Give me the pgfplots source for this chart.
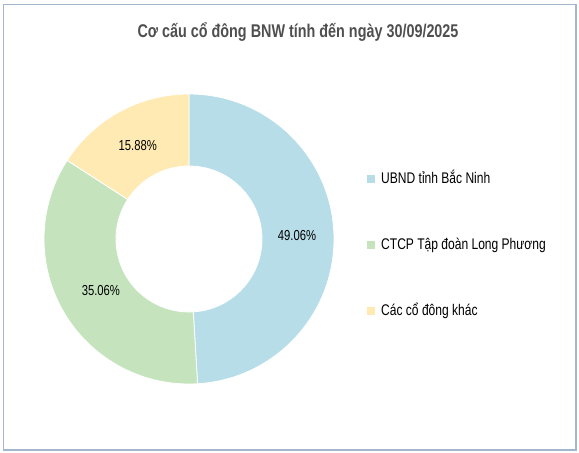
\documentclass[border=0pt]{standalone}
\usepackage{pgfplots}
\pgfplotsset{compat=1.18}
\usepackage{fontspec}
\setmainfont{Liberation Sans}[FakeStretch=0.85]
\newfontfamily\narrowfont{Liberation Sans}[FakeStretch=0.78]
\definecolor{sliceA}{HTML}{B7DDE8}
\definecolor{sliceB}{HTML}{C5E4BE}
\definecolor{sliceC}{HTML}{FFEAB3}
\definecolor{framec}{HTML}{A3B6CC}
\definecolor{titlec}{HTML}{4F4F4F}
% shares (%)
\def\vA{49.06}
\def\vB{35.06}
\def\vC{15.88}
\begin{document}
\begin{tikzpicture}
\pgfmathsetmacro\aA{90}
\pgfmathsetmacro\aB{\aA-\vA*3.6}
\pgfmathsetmacro\aC{\aB-\vB*3.6}
\pgfmathsetmacro\aD{\aC-\vC*3.6}
\pgfmathsetmacro\mA{(\aA+\aB)/2}
\pgfmathsetmacro\mB{(\aB+\aC)/2}
\pgfmathsetmacro\mC{(\aC+\aD)/2}
\def\cx{189}\def\cy{214}
\begin{axis}[x=1bp,y=1bp,xmin=0,xmax=579,ymin=0,ymax=453,
  hide axis, clip=false, at={(0,0)}, anchor=south west,
  legend style={at={(axis cs:367,208)}, anchor=west, draw=none, fill=none,
    inner sep=0pt, row sep=52bp,
    nodes={text height=11bp, text depth=3bp, inner sep=0pt, font=\narrowfont\fontsize{15.5}{17}\selectfont},
    /tikz/every odd column/.append style={column sep=6bp}},
  legend cell align=left,
  legend image code/.code={\fill[#1, draw=none] (0bp,-4bp) rectangle (8bp,4bp);},
]
\addlegendimage{fill=sliceA, draw=none}\addlegendentry{UBND tỉnh Bắc Ninh}
\addlegendimage{fill=sliceB, draw=none}\addlegendentry{CTCP Tập đoàn Long Phương}
\addlegendimage{fill=sliceC, draw=none}\addlegendentry{Các cổ đông khác}
\draw[framec, line width=1.5bp] (axis cs:3.5,3) rectangle (axis cs:576,448.5);
\fill[sliceA, draw=white, line width=0.8bp] ([shift={(\aA:145bp)}]axis cs:\cx,\cy) arc[start angle=\aA, end angle=\aB, radius=145bp] -- ([shift={(\aB:73bp)}]axis cs:\cx,\cy) arc[start angle=\aB, end angle=\aA, radius=73bp] -- cycle;
\fill[sliceB, draw=white, line width=0.8bp] ([shift={(\aB:145bp)}]axis cs:\cx,\cy) arc[start angle=\aB, end angle=\aC, radius=145bp] -- ([shift={(\aC:73bp)}]axis cs:\cx,\cy) arc[start angle=\aC, end angle=\aB, radius=73bp] -- cycle;
\fill[sliceC, draw=white, line width=0.8bp] ([shift={(\aC:145bp)}]axis cs:\cx,\cy) arc[start angle=\aC, end angle=\aD, radius=145bp] -- ([shift={(\aD:73bp)}]axis cs:\cx,\cy) arc[start angle=\aD, end angle=\aC, radius=73bp] -- cycle;
\node[font=\narrowfont\fontsize{14.5}{16}\selectfont] at ([shift={(\mA:108bp)}]axis cs:\cx,\cy) {\vA\%};
\node[font=\narrowfont\fontsize{14.5}{16}\selectfont] at ([shift={(\mB:102bp)}]axis cs:\cx,\cy) {\vB\%};
\node[font=\narrowfont\fontsize{14.5}{16}\selectfont] at ([shift={(\mC:107bp)}]axis cs:\cx,\cy) {\vC\%};
\node[font=\narrowfont\bfseries\fontsize{18.5}{21}\selectfont, text=titlec] at (axis cs:298,421) {Cơ cấu cổ đông BNW tính đến ngày 30/09/2025};
\end{axis}
\pgfresetboundingbox
\path[use as bounding box] (0,0) rectangle (579bp,453bp);
\end{tikzpicture}
\end{document}
